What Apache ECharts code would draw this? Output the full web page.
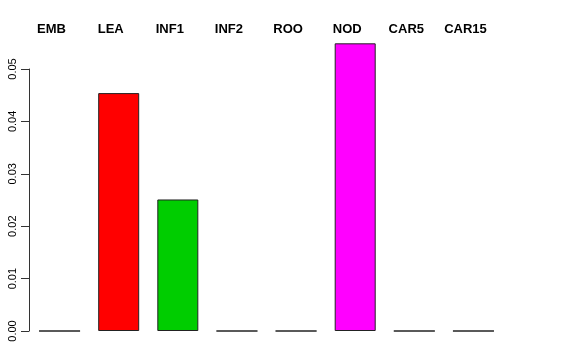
<!DOCTYPE html>
<html>
<head>
<meta charset="utf-8">
<script src="https://cdn.jsdelivr.net/npm/echarts@6/dist/echarts.min.js"></script>
<style>html,body{margin:0;padding:0;background:#fff}#c{width:576px;height:360px}</style>
</head>
<body>
<div id="c"></div>
<script>
var categories = ['EMB', 'LEA', 'INF1', 'INF2', 'ROO', 'NOD', 'CAR5', 'CAR15'];
var values = [0, 0.0454, 0.0251, 0, 0, 0.0549, 0, 0];
var barColors = ['#FFFFFF', '#FF0000', '#00CD00', '#FFFFFF', '#FFFFFF', '#FF00FF', '#FFFFFF', '#FFFFFF'];
var yTicks = [0, 0.01, 0.02, 0.03, 0.04, 0.05];

var chart = echarts.init(document.getElementById('c'), null, {renderer: 'canvas'});
chart.setOption({
  animation: false,
  backgroundColor: '#fff',
  grid: {left: 30, right: 73, top: 69, bottom: 29, containLabel: false},
  xAxis: {
    type: 'category',
    position: 'top',
    data: categories,
    axisLine: {show: false},
    axisTick: {show: false},
    axisLabel: {
      margin: 33,
      color: '#000',
      fontFamily: 'Liberation Sans',
      fontWeight: 'bold',
      fontSize: 13,
      padding: [0, 16, 0, 0]
    },
    splitLine: {show: false}
  },
  yAxis: {
    type: 'value',
    min: yTicks[0],
    max: yTicks[yTicks.length - 1],
    interval: 0.01,
    offset: 1,
    axisLine: {show: true, lineStyle: {color: '#333', width: 1}},
    axisTick: {show: true, length: 8, lineStyle: {color: '#333', width: 1}},
    axisLabel: {
      rotate: 90,
      margin: 11,
      color: '#000',
      fontFamily: 'Liberation Sans',
      fontSize: 11,
      formatter: function (v) { return v.toFixed(2); }
    },
    splitLine: {show: false}
  },
  series: [{
    type: 'bar',
    clip: false,
    barWidth: 41,
    data: values.map(function (v, i) {
      return {value: v, itemStyle: {color: barColors[i]}};
    }),
    itemStyle: {borderColor: '#222', borderWidth: 1}
  }]
});
</script>
</body>
</html>
